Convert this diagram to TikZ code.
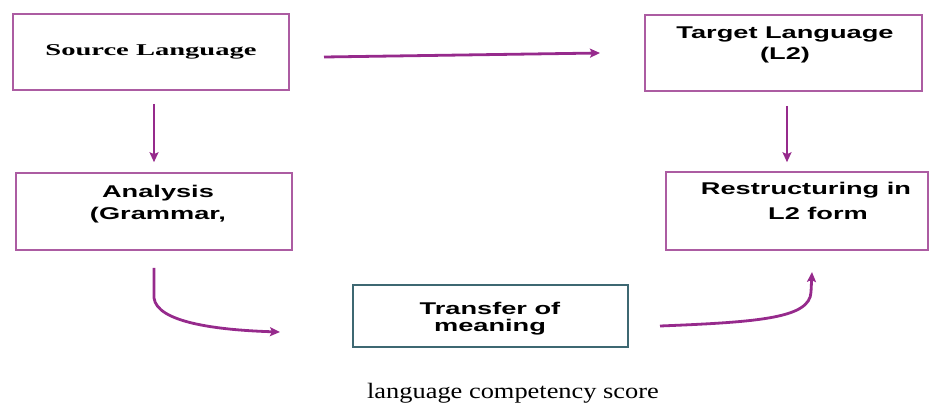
\documentclass[tikz,border=0pt]{standalone}
\usepackage{fontspec}
\setsansfont[FakeStretch=1.6]{Liberation Sans}
\newfontfamily\srcfont[FakeStretch=1.73]{Liberation Serif}
\newfontfamily\capfont[FakeStretch=1.2]{Liberation Serif}
\usetikzlibrary{shapes.geometric, arrows.meta}
\definecolor{boxline}{RGB}{172,92,162}
\definecolor{arrowline}{RGB}{150,42,140}
\definecolor{tealline}{RGB}{62,104,114}
\tikzstyle{stage} = [rectangle, minimum width=276pt, minimum height=76pt, align=center, draw=boxline, line width=1.6pt]
\tikzstyle{transfer} = [rectangle, minimum width=275pt, minimum height=62pt, align=center, draw=tealline, line width=1.6pt]
\tikzstyle{words} = [align=center, font=\sffamily\bfseries\fontsize{17}{22}\selectfont]
\tikzstyle{arrow} = [line width=2.8pt, draw=arrowline, -{Stealth[length=10pt, width=9pt, inset=2pt]}]
\begin{document}
\begin{tikzpicture}[x=1pt, y=-1pt]
\useasboundingbox (0,0) rectangle (934,407);

\node (src) [stage, font=\srcfont\bfseries\fontsize{16.5}{20}\selectfont] at (151,52) {Source Language};
\node (tgt) [stage, minimum width=277pt] at (783.5,53) {};
\node (tgtText) [words, font=\sffamily\bfseries\fontsize{17}{21}\selectfont] at (785,45) {Target Language\\(L2)};

\node (ana) [stage, minimum height=77pt] at (154,211.5) {};
\node (anaText) [words] at (158,204.6) {Analysis\\(Grammar,};
\node (res) [stage, minimum width=262pt, minimum height=78pt] at (797,211) {};
\node (resText) [words, font=\sffamily\bfseries\fontsize{17}{25}\selectfont] at (806,201) {Restructuring in\\\hspace*{24pt}L2 form};

\node (trn) [transfer] at (490.5,316) {};
\node (trnText) [words, font=\sffamily\bfseries\fontsize{17}{17}\selectfont] at (490,319) {Transfer of\\meaning};

\node (caption) [anchor=base, font=\capfont\fontsize{22}{26}\selectfont] at (513,398) {language competency score};

\coordinate (srcOut) at (324,57);
\coordinate (tgtIn) at (600,53);
\coordinate (trnIn) at (280,332);
\coordinate (trnOut) at (660,326);
\coordinate (resIn) at (812,272);

\draw [arrow] (srcOut) -- (tgtIn);
\draw [arrow, shorten <=13pt, shorten >=10pt] (ana.north |- src.south) -- (ana.north);
\draw [arrow, shorten <=14pt, shorten >=9pt] ([xshift=3.5pt]tgt.south) -- ([xshift=3.5pt]tgt.south |- res.north);
\draw [arrow, shorten <=17pt] (ana.south) -- (154,298) .. controls (157,322) and (215,330) .. (trnIn);
\draw [arrow] (trnOut) .. controls (760,322) and (810,318) .. (811,292) -- (resIn);
\end{tikzpicture}
\end{document}
